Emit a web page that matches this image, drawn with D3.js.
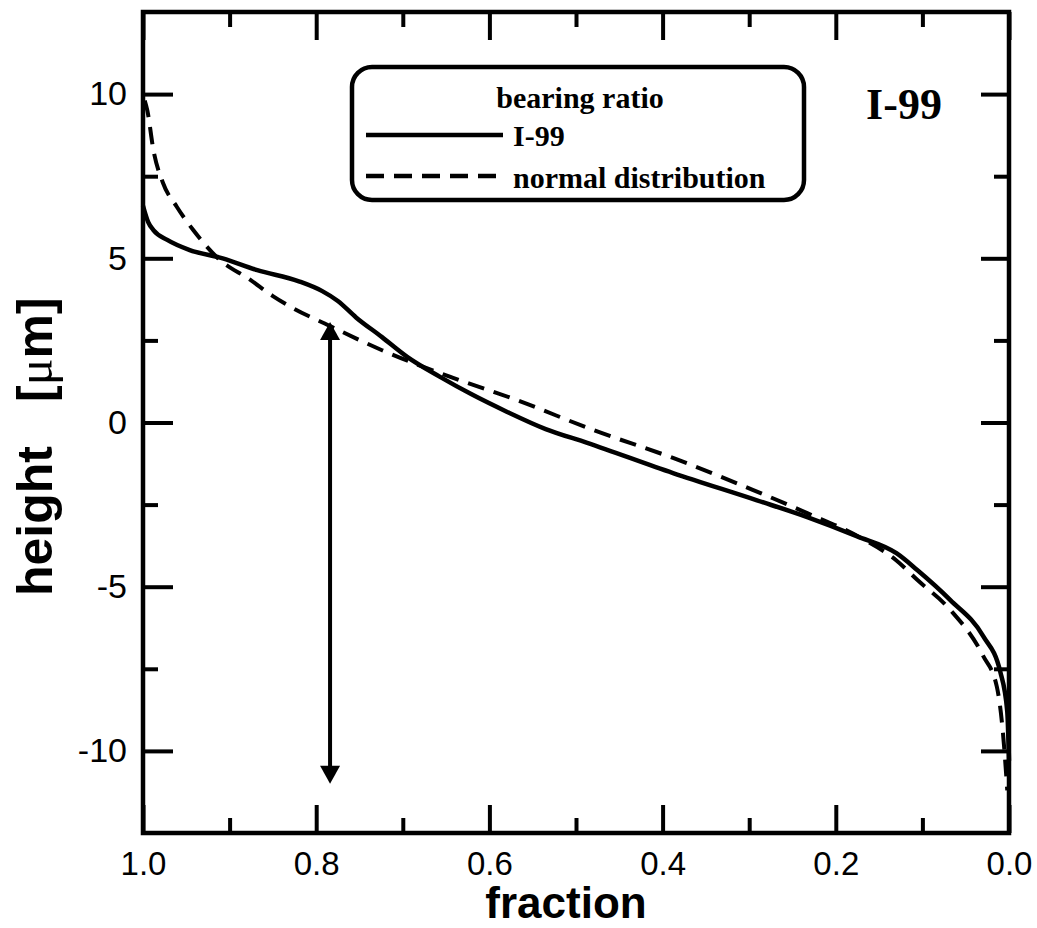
<!DOCTYPE html>
<html>
<head>
<meta charset="utf-8">
<script src="https://cdn.jsdelivr.net/npm/d3@7"></script>
<style>
  body { margin: 0; background: #fff; }
  .tick line { stroke: #000; stroke-width: 4; }
</style>
</head>
<body>
<div id="chart-area"></div>
<script>
// bearing ratio curve (fraction, height in um)
var measuredFrac = [1.0, 0.994, 0.988, 0.972, 0.946, 0.908, 0.868, 0.82, 0.793, 0.775, 0.754, 0.724, 0.695, 0.657, 0.62, 0.58, 0.535, 0.487, 0.388, 0.291, 0.233, 0.176, 0.13, 0.106, 0.068, 0.03, 0.01, 0.002, 0.0];
var measuredHeight = [6.6, 6.1, 5.86, 5.56, 5.25, 5.0, 4.64, 4.3, 4.0, 3.7, 3.2, 2.6, 2.0, 1.39, 0.85, 0.33, -0.2, -0.62, -1.54, -2.37, -2.88, -3.46, -3.98, -4.49, -5.4, -6.5, -7.6, -8.8, -10.3];

// normal distribution curve
var normalFrac = [0.998, 0.995, 0.988, 0.977, 0.961, 0.942, 0.915, 0.876, 0.85, 0.828, 0.785, 0.724, 0.642, 0.568, 0.48, 0.388, 0.296, 0.233, 0.172, 0.13, 0.106, 0.068, 0.03, 0.014, 0.007, 0.002];
var normalHeight = [9.8, 9.5, 8.3, 7.3, 6.57, 5.86, 5.04, 4.34, 3.85, 3.5, 2.95, 2.2, 1.36, 0.68, -0.23, -1.08, -2.05, -2.76, -3.5, -4.2, -4.79, -5.7, -7.1, -8.05, -9.45, -11.2];

var xTicks = [1.0, 0.8, 0.6, 0.4, 0.2, 0.0];
var xMinor = [0.9, 0.7, 0.5, 0.3, 0.1];
var yTicks = [10, 5, 0, -5, -10];
var yMinor = [7.5, 2.5, -2.5, -7.5];

// arrow marking the fraction
var arrowFrac = 0.784;
var arrowFrom = 3.06;
var arrowTo = -11.0;

var legendTitle = "bearing ratio";
var seriesNames = ["I-99", "normal distribution"];
var sampleLabel = "I-99";

var plotLeft = 143, plotTop = 12, plotRight = 1009, plotBottom = 833;

var svg = d3.select("#chart-area")
    .append("svg")
    .attr("width", 1037)
    .attr("height", 928);

var x = d3.scaleLinear()
    .domain([1.0, 0.0])
    .range([plotLeft, plotRight]);

var y = d3.scaleLinear()
    .domain([-12.5, 12.5])
    .range([plotBottom, plotTop]);

function addAxis(axis, tx, ty, fontSize) {
    var ax = svg.append("g")
        .attr("transform", "translate(" + tx + "," + ty + ")")
        .call(axis);
    ax.select(".domain").remove();
    ax.selectAll("text")
        .attr("font-family", "'Liberation Sans', Arial, sans-serif")
        .attr("font-size", fontSize || "10px")
        .attr("fill", "#000");
    return ax;
}

var fmt1 = d3.format(".1f");

// X axes
addAxis(d3.axisBottom(x).tickValues(xTicks).tickSize(-28).tickPadding(19).tickFormat(fmt1), 0, plotBottom, "33px");
addAxis(d3.axisBottom(x).tickValues(xMinor).tickSize(-15).tickFormat(""), 0, plotBottom);
addAxis(d3.axisTop(x).tickValues(xTicks).tickSize(-28).tickFormat(""), 0, plotTop);
addAxis(d3.axisTop(x).tickValues(xMinor).tickSize(-15).tickFormat(""), 0, plotTop);

// Y axes (plain hyphen for negatives)
addAxis(d3.axisLeft(y).tickValues(yTicks).tickSize(-30).tickPadding(16)
    .tickFormat(function(d) { return String(d); }), plotLeft, 0, "34px");
addAxis(d3.axisLeft(y).tickValues(yMinor).tickSize(-15).tickFormat(""), plotLeft, 0);
addAxis(d3.axisRight(y).tickValues(yTicks).tickSize(-28).tickFormat(""), plotRight, 0);
addAxis(d3.axisRight(y).tickValues(yMinor).tickSize(-15).tickFormat(""), plotRight, 0);

// frame
svg.append("rect")
    .attr("x", plotLeft)
    .attr("y", plotTop)
    .attr("width", plotRight - plotLeft)
    .attr("height", plotBottom - plotTop)
    .attr("fill", "none")
    .attr("stroke", "#000")
    .attr("stroke-width", 4.5);

// curves
var line = d3.line()
    .x(function(d) { return x(d[0]); })
    .y(function(d) { return y(d[1]); })
    .curve(d3.curveMonotoneX);

var measured = measuredFrac.map(function(f, i) { return [f, measuredHeight[i]]; });
var normal = normalFrac.map(function(f, i) { return [f, normalHeight[i]]; });

svg.append("path")
    .datum(normal)
    .attr("d", line)
    .attr("fill", "none")
    .attr("stroke", "#000")
    .attr("stroke-width", 4)
    .attr("stroke-dasharray", "17,10");

svg.append("path")
    .datum(measured)
    .attr("d", line)
    .attr("fill", "none")
    .attr("stroke", "#000")
    .attr("stroke-width", 4.5);

// double arrow
var ax0 = x(arrowFrac);
svg.append("line")
    .attr("x1", ax0).attr("x2", ax0)
    .attr("y1", y(arrowFrom) + 14).attr("y2", y(arrowTo) - 14)
    .attr("stroke", "#000")
    .attr("stroke-width", 4);
svg.append("path")
    .attr("d", "M" + ax0 + "," + y(arrowFrom) + " l-10,18 l20,0 Z")
    .attr("fill", "#000");
svg.append("path")
    .attr("d", "M" + ax0 + "," + y(arrowTo) + " l-10,-18 l20,0 Z")
    .attr("fill", "#000");

// legend
var lg = svg.append("g");
lg.append("rect")
    .attr("x", 352).attr("y", 67)
    .attr("width", 452).attr("height", 133)
    .attr("rx", 20)
    .attr("fill", "#fff")
    .attr("stroke", "#000")
    .attr("stroke-width", 4.5);

var serif = "'Liberation Serif', 'Times New Roman', serif";
lg.append("text")
    .attr("x", 580).attr("y", 108)
    .attr("text-anchor", "middle")
    .attr("font-family", serif)
    .attr("font-weight", "bold")
    .attr("font-size", "30px")
    .text(legendTitle);

lg.append("line")
    .attr("x1", 366).attr("x2", 503)
    .attr("y1", 135).attr("y2", 135)
    .attr("stroke", "#000").attr("stroke-width", 4.5);
lg.append("text")
    .attr("x", 513).attr("y", 146)
    .attr("font-family", serif)
    .attr("font-weight", "bold")
    .attr("font-size", "30px")
    .text(seriesNames[0]);

lg.append("line")
    .attr("x1", 366).attr("x2", 500)
    .attr("y1", 176).attr("y2", 176)
    .attr("stroke", "#000").attr("stroke-width", 4.5)
    .attr("stroke-dasharray", "18,10");
lg.append("text")
    .attr("x", 513).attr("y", 188)
    .attr("font-family", serif)
    .attr("font-weight", "bold")
    .attr("font-size", "30px")
    .text(seriesNames[1]);

svg.append("text")
    .attr("x", 904).attr("y", 119)
    .attr("text-anchor", "middle")
    .attr("font-family", serif)
    .attr("font-weight", "bold")
    .attr("font-size", "44px")
    .text(sampleLabel);

// axis labels
svg.append("text")
    .attr("x", 566).attr("y", 918)
    .attr("text-anchor", "middle")
    .attr("font-family", "'Liberation Sans', Arial, sans-serif")
    .attr("font-weight", "bold")
    .attr("font-size", "44px")
    .text("fraction");

var yl = svg.append("text")
    .attr("transform", "translate(52,596) rotate(-90)")
    .attr("text-anchor", "start")
    .attr("font-family", "'Liberation Sans', Arial, sans-serif")
    .attr("font-weight", "bold")
    .attr("font-size", "50px");
yl.append("tspan").text("height");
yl.append("tspan").attr("dx", 44).text("[");
yl.append("tspan").attr("font-family", serif).attr("font-weight", "normal").text("μ");
yl.append("tspan").text("m]");
</script>
</body>
</html>
